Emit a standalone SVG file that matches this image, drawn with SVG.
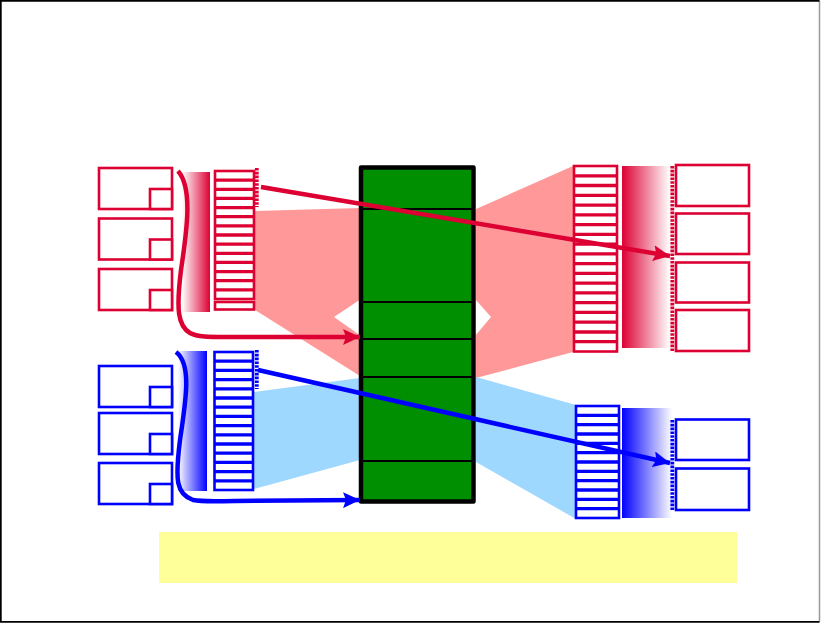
<svg xmlns="http://www.w3.org/2000/svg" width="821" height="624" viewBox="0 0 821 624">
<defs>
<linearGradient id="gRedL" x1="0" y1="0" x2="1" y2="0"><stop offset="0" stop-color="#DD0033" stop-opacity="0"/><stop offset="1" stop-color="#DD0033"/></linearGradient>
<linearGradient id="gRedR" x1="0" y1="0" x2="1" y2="0"><stop offset="0" stop-color="#DD0033"/><stop offset="1" stop-color="#DD0033" stop-opacity="0"/></linearGradient>
<linearGradient id="gBlueL" x1="0" y1="0" x2="1" y2="0"><stop offset="0" stop-color="#0000FF" stop-opacity="0"/><stop offset="1" stop-color="#0000FF"/></linearGradient>
<linearGradient id="gBlueR" x1="0" y1="0" x2="1" y2="0"><stop offset="0" stop-color="#0000FF"/><stop offset="1" stop-color="#0000FF" stop-opacity="0"/></linearGradient>
<marker id="aRed" markerUnits="userSpaceOnUse" markerWidth="18" markerHeight="16" refX="17" refY="8" orient="auto"><path d="M0,0 L17,8 L0,16 L3,8 Z" fill="#DD0033"/></marker>
<marker id="aBlue" markerUnits="userSpaceOnUse" markerWidth="18" markerHeight="16" refX="17" refY="8" orient="auto"><path d="M0,0 L17,8 L0,16 L3,8 Z" fill="#0000FF"/></marker>
<style>
.rb{fill:#fff;stroke:#DD0033;stroke-width:2.6}
.bb{fill:#fff;stroke:#0000FF;stroke-width:2.6}
.rs{fill:#fff;stroke:#DD0033;stroke-width:2.6}
.bs{fill:#fff;stroke:#0000FF;stroke-width:2.6}
.rd{fill:none;stroke:#DD0033;stroke-width:3.3}
.bd{fill:none;stroke:#0000FF;stroke-width:3.3}
.rdot{fill:none;stroke:#DD0033;stroke-width:3.8;stroke-dasharray:2.6 1.2}
.bdot{fill:none;stroke:#0000FF;stroke-width:3.8;stroke-dasharray:2.6 1.2}
.ra{fill:none;stroke:#DD0033;stroke-width:4.5}
.ba{fill:none;stroke:#0000FF;stroke-width:4.5}
</style>
</defs>
<rect x="0" y="0" width="821" height="624" fill="#fff"/>
<path d="M819.5,0.8 V621.5" stroke="#999" stroke-width="1.5" fill="none"/>
<path d="M819.5,0.8 H0.8 V621.8 H819.5" stroke="#000" stroke-width="1.8" fill="none"/>

<g id="fans">
<polygon points="255,211 360,208 360,376 255,310" fill="#FF9999"/>
<polygon points="476,209 573,166 573,352 476,378" fill="#FF9999"/>
<polygon points="254,392 360,378 360,460 254,489" fill="#9ED8FF"/>
<polygon points="476,377 576,405 576,519 476,462" fill="#9ED8FF"/>
<polygon points="334,317 361,299 475,299 491,317 475,336 361,336" fill="#fff"/>
</g>

<g id="green-column">
<rect x="361" y="167.5" width="112.5" height="334" fill="#008F00" stroke="#000" stroke-width="4.5" stroke-linejoin="round"/>
<path d="M361,209H473.5M361,302H473.5M361,339H473.5M361,377H473.5M361,461H473.5" stroke="#000" stroke-width="2" fill="none"/>
</g>

<g id="left-red-boxes">
<rect class="rb" x="99" y="168" width="73" height="41"/><rect class="rb" x="150" y="189" width="22" height="20"/>
<rect class="rb" x="99" y="218.5" width="73" height="41"/><rect class="rb" x="150" y="239.5" width="22" height="20"/>
<rect class="rb" x="99" y="269" width="73" height="41"/><rect class="rb" x="150" y="290" width="22" height="20"/>
</g>
<g id="left-blue-boxes">
<rect class="bb" x="99" y="366" width="73" height="41"/><rect class="bb" x="150" y="387" width="22" height="20"/>
<rect class="bb" x="99" y="413" width="73" height="41"/><rect class="bb" x="150" y="434" width="22" height="20"/>
<rect class="bb" x="99" y="463" width="73" height="41"/><rect class="bb" x="150" y="484" width="22" height="20"/>
</g>

<g id="left-red-bar"><rect x="182" y="172" width="28" height="140" fill="url(#gRedL)"/></g>
<g id="left-blue-bar"><rect x="178" y="351" width="29" height="140" fill="url(#gBlueL)"/></g>
<g id="right-red-bar"><rect x="622" y="166" width="48" height="182" fill="url(#gRedR)"/></g>
<g id="right-blue-bar"><rect x="622" y="408" width="50" height="110" fill="url(#gBlueR)"/></g>

<g id="left-red-stack">
<rect class="rs" x="215" y="171" width="39" height="128"/>
<path class="rd" d="M215,180.1H254M215,189.3H254M215,198.4H254M215,207.6H254M215,216.7H254M215,225.9H254M215,235H254M215,244.1H254M215,253.3H254M215,262.4H254M215,271.6H254M215,280.7H254M215,289.9H254"/>
<rect class="rs" x="215" y="302" width="39" height="7.5"/>
<path class="rdot" d="M256.8,168V207"/>
</g>

<g id="left-blue-stack">
<rect class="bs" x="214.5" y="352" width="38.5" height="138"/>
<path class="bd" d="M214.5,361.2H253M214.5,370.4H253M214.5,379.6H253M214.5,388.8H253M214.5,398H253M214.5,407.2H253M214.5,416.4H253M214.5,425.6H253M214.5,434.8H253M214.5,444H253M214.5,453.2H253M214.5,462.4H253M214.5,471.6H253M214.5,480.8H253"/>
<path class="bdot" d="M256.8,350V389"/>
</g>

<g id="right-red-stack">
<rect class="rs" x="574" y="166" width="43" height="185.5"/>
<path class="rd" d="M574,175.8H617M574,185.5H617M574,195.3H617M574,205.1H617M574,214.8H617M574,224.6H617M574,234.3H617M574,244.1H617M574,253.9H617M574,263.6H617M574,273.4H617M574,283.2H617M574,292.9H617M574,302.7H617M574,312.4H617M574,322.2H617M574,332H617M574,341.7H617"/>
<path class="rdot" d="M672.3,166V352"/>
</g>

<g id="right-blue-stack">
<rect class="bs" x="576" y="406" width="43" height="112"/>
<path class="bd" d="M576,415.3H619M576,424.7H619M576,434H619M576,443.3H619M576,452.7H619M576,462H619M576,471.3H619M576,480.7H619M576,490H619M576,499.3H619M576,508.7H619"/>
<path class="bdot" d="M672.3,420V510"/>
</g>

<g id="right-red-boxes">
<rect class="rb" x="676" y="165" width="73" height="41"/>
<rect class="rb" x="676" y="213.5" width="73" height="40.5"/>
<rect class="rb" x="676" y="262.5" width="73" height="40"/>
<rect class="rb" x="676" y="310" width="73" height="41"/>
</g>
<g id="right-blue-boxes">
<rect class="bb" x="676" y="419.5" width="73" height="40.5"/>
<rect class="bb" x="676" y="468.5" width="73" height="41.5"/>
</g>

<g id="note"><rect x="159" y="532" width="578" height="51" fill="#FFFF99"/></g>

<g id="connectors">
<path class="ra" d="M178,171 C193,188 187,230 181,270 C176,310 178,326 190,333 C197,337 210,337 225,337 L360,337" marker-end="url(#aRed)"/>
<path class="ba" d="M176,352 C192,364 186,400 180,440 C175,480 176,494 193,500 C203,502 220,501 235,501 L360,500" marker-end="url(#aBlue)"/>
<path class="ra" d="M261,187 L670,256" marker-end="url(#aRed)"/>
<path class="ba" d="M258,370 L670,463" marker-end="url(#aBlue)"/>
</g>
</svg>
